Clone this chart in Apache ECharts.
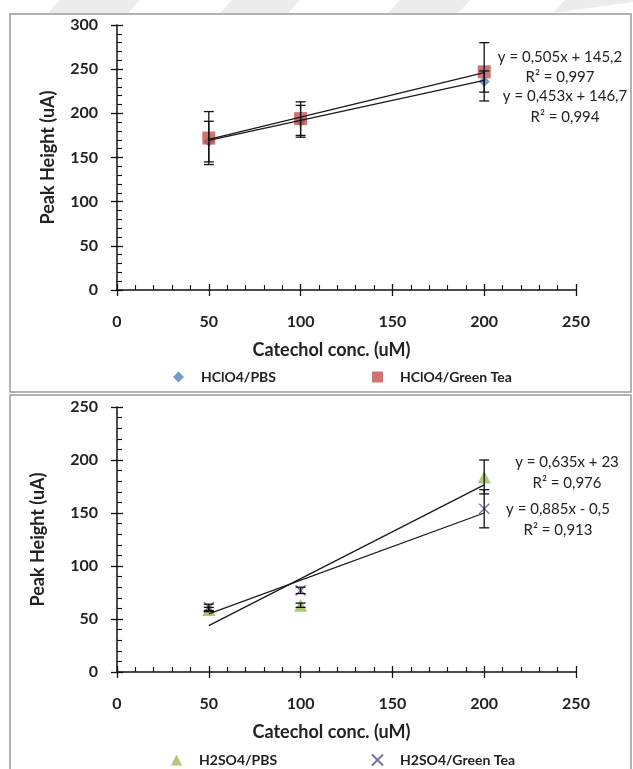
<!DOCTYPE html>
<html>
<head>
<meta charset="utf-8">
<script src="https://cdn.jsdelivr.net/npm/echarts@6/dist/echarts.min.js"></script>
<style>
  html, body { margin: 0; padding: 0; background: #ffffff; }
  #chart { width: 633px; height: 769px; }
</style>
</head>
<body>
<div id="chart"></div>
<script>
// Catechol concentrations (uM)
const concentrations = [50, 100, 200];

// Axis ranges
const xAxisRange = [0, 250, 50];
const topYRange = [0, 300, 50];
const bottomYRange = [0, 250, 50];

// HClO4 electrolyte: peak heights (uA) and error bars
const hclo4PbsPeak = [168, 191, 236];
const hclo4PbsErr = [23, 18, 12];
const hclo4TeaPeak = [172, 194, 247];
const hclo4TeaErr = [30, 19, 33];

// H2SO4 electrolyte: peak heights (uA) and error bars
const h2so4PbsPeak = [59, 63, 184];
const h2so4PbsErr = [2, 2, 16];
const h2so4TeaPeak = [61, 77, 154];
const h2so4TeaErr = [3, 3, 18];

// Linear fits: [HClO4/PBS, HClO4/Green Tea, H2SO4/PBS, H2SO4/Green Tea]
const fitSlopes = [0.453, 0.505, 0.885, 0.635];
const fitIntercepts = [146.7, 145.2, -0.5, 23];
const fitR2 = [0.994, 0.997, 0.913, 0.976];

const seriesNames = ['HClO4/PBS', 'HClO4/Green Tea', 'H2SO4/PBS', 'H2SO4/Green Tea'];

const FONT = 'Lato';
const INK = '#222222';

function commaNum(v) {
  return String(Math.abs(v)).replace('.', ',');
}
function equationText(i) {
  const b = fitIntercepts[i];
  return 'y = ' + commaNum(fitSlopes[i]) + 'x ' + (b < 0 ? '- ' : '+ ') + commaNum(b);
}
function r2Text(i) {
  return 'R\u00b2 = ' + commaNum(fitR2[i]);
}

function xAxes(gridIndex) {
  const base = {
    type: 'value', gridIndex: gridIndex, position: 'bottom',
    min: xAxisRange[0], max: xAxisRange[1], interval: xAxisRange[2],
    splitLine: { show: false }
  };
  return [
    Object.assign({}, base, {
      name: 'Catechol conc. (uM)', nameLocation: 'middle', nameGap: 51,
      nameTextStyle: { fontFamily: FONT, fontWeight: 'bold', fontSize: 18, color: INK, padding: [0, 30, 0, 0] },
      axisLine: { show: true, onZero: false, lineStyle: { color: '#111', width: 1.5 } },
      axisTick: { show: true, inside: true, length: 6, lineStyle: { color: '#111', width: 1.3 } },
      minorTick: { show: true, splitNumber: 5, length: 5, lineStyle: { color: '#111', width: 1.1 } },
      axisLabel: { fontFamily: FONT, fontWeight: 'bold', fontSize: 16, color: INK, margin: 24 }
    }),
    Object.assign({}, base, {
      axisLine: { show: false },
      axisTick: { show: true, inside: false, length: 6, lineStyle: { color: '#111', width: 1.3 } },
      minorTick: { show: false },
      axisLabel: { show: false }
    })
  ];
}

function yAxes(gridIndex, range, nameGap) {
  const base = {
    type: 'value', gridIndex: gridIndex, position: 'left',
    min: range[0], max: range[1], interval: range[2],
    splitLine: { show: false }
  };
  return [
    Object.assign({}, base, {
      name: 'Peak Height (uA)', nameLocation: 'middle', nameGap: nameGap,
      nameTextStyle: { fontFamily: FONT, fontWeight: 'bold', fontSize: 18, color: INK },
      axisLine: { show: true, onZero: false, lineStyle: { color: '#111', width: 1.5 } },
      axisTick: { show: true, inside: true, length: 6, lineStyle: { color: '#111', width: 1.3 } },
      minorTick: { show: true, splitNumber: 5, length: 5, lineStyle: { color: '#111', width: 1.1 } },
      axisLabel: { fontFamily: FONT, fontWeight: 'bold', fontSize: 16, color: INK, margin: 19 }
    }),
    Object.assign({}, base, {
      axisLine: { show: false },
      axisTick: { show: true, inside: false, length: 6, lineStyle: { color: '#111', width: 1.3 } },
      minorTick: { show: false },
      axisLabel: { show: false }
    })
  ];
}

function errorBars(axisIndex, values, errs) {
  return {
    type: 'custom', xAxisIndex: axisIndex, yAxisIndex: axisIndex, silent: true, z: 4,
    data: concentrations.map((x, i) => [x, values[i] - errs[i], values[i] + errs[i]]),
    encode: { x: 0, y: [1, 2] },
    renderItem: function (params, api) {
      const lo = api.coord([api.value(0), api.value(1)]);
      const hi = api.coord([api.value(0), api.value(2)]);
      const w = 5;
      const st = { stroke: '#111', lineWidth: 1.3 };
      return {
        type: 'group',
        children: [
          { type: 'line', shape: { x1: lo[0], y1: lo[1], x2: hi[0], y2: hi[1] }, style: st },
          { type: 'line', shape: { x1: lo[0] - w, y1: lo[1], x2: lo[0] + w, y2: lo[1] }, style: st },
          { type: 'line', shape: { x1: hi[0] - w, y1: hi[1], x2: hi[0] + w, y2: hi[1] }, style: st }
        ]
      };
    }
  };
}

function trendLine(axisIndex, fitIdx) {
  const xs = [concentrations[0], concentrations[concentrations.length - 1]];
  return {
    type: 'line', xAxisIndex: axisIndex, yAxisIndex: axisIndex, silent: true, z: 3,
    symbol: 'none',
    lineStyle: { color: '#1a1a1a', width: 1.3 },
    data: xs.map(x => [x, fitSlopes[fitIdx] * x + fitIntercepts[fitIdx]])
  };
}

function points(axisIndex, name, values, symbol, size, style) {
  return {
    type: 'scatter', name: name, xAxisIndex: axisIndex, yAxisIndex: axisIndex, z: 2,
    symbol: symbol, symbolSize: size, itemStyle: style,
    data: concentrations.map((x, i) => [x, values[i]])
  };
}

const crossPath = 'path://M0,0 L10,10 M10,0 L0,10';

const styles = {
  hclo4Pbs: { color: '#4F81BD' },
  hclo4Tea: { color: '#C0504D' },
  h2so4Pbs: { color: '#9BBB59' },
  h2so4Tea: { color: 'rgba(0,0,0,0)', borderColor: '#5E4A8A', borderWidth: 1.4 }
};

function legendItem(name, left, top) {
  return {
    data: [name], left: left, top: top, orient: 'horizontal',
    itemWidth: 11, itemHeight: 11, selectedMode: false, padding: 0,
    textStyle: { fontFamily: FONT, fontWeight: 'bold', fontSize: 14, color: INK, padding: [0, 0, 0, 12] }
  };
}

// Equation labels next to the fitted lines
function eqLabels(fitIdx, cx, yEq, yR2) {
  const st = { fontFamily: FONT, fontSize: 15, fill: INK, textAlign: 'center', textVerticalAlign: 'middle' };
  return [
    { type: 'text', x: cx, y: yEq, z: 10, style: Object.assign({ text: equationText(fitIdx) }, st) },
    { type: 'text', x: cx, y: yR2, z: 10, style: Object.assign({ text: r2Text(fitIdx) }, st) }
  ];
}

const chart = echarts.init(document.getElementById('chart'), null, { renderer: 'canvas' });

chart.setOption({
  backgroundColor: '#ffffff',
  animation: false,
  grid: [
    { left: 117, top: 25, width: 459, height: 265 },
    { left: 117, top: 407, width: 459, height: 265 }
  ],
  xAxis: [].concat(xAxes(0), xAxes(1)),
  yAxis: [].concat(yAxes(0, topYRange, 60), yAxes(1, bottomYRange, 70)),
  legend: [
    legendItem(seriesNames[0], 173, 370),
    legendItem(seriesNames[1], 372, 370),
    legendItem(seriesNames[2], 171, 753),
    legendItem(seriesNames[3], 371, 753)
  ],
  graphic: [
    // faint diagonal bands along the top strip
    { type: 'polygon', z: -10, silent: true, shape: { points: [[60, 0], [140, 0], [128, 13], [48, 13]] }, style: { fill: '#ececec' } },
    { type: 'polygon', z: -10, silent: true, shape: { points: [[232, 0], [300, 0], [288, 13], [220, 13]] }, style: { fill: '#ececec' } },
    { type: 'polygon', z: -10, silent: true, shape: { points: [[400, 0], [470, 0], [458, 13], [388, 13]] }, style: { fill: '#ececec' } },
    { type: 'polygon', z: -10, silent: true, shape: { points: [[565, 0], [633, 0], [633, 2], [553, 13]] }, style: { fill: '#ececec' } },
    // panel frames
    { type: 'rect', z: -5, silent: true, shape: { x: 10, y: 14, width: 621, height: 378 }, style: { fill: '#ffffff', stroke: '#9a9a9a', lineWidth: 1.5 } },
    { type: 'rect', z: -5, silent: true, shape: { x: 10, y: 395, width: 621, height: 380 }, style: { fill: '#ffffff', stroke: '#9a9a9a', lineWidth: 1.5 } }
  ]
    .concat(eqLabels(1, 560, 57, 77))
    .concat(eqLabels(0, 565, 96, 117))
    .concat(eqLabels(3, 567, 462, 483))
    .concat(eqLabels(2, 558, 509, 530)),
  series: [
    points(0, seriesNames[0], hclo4PbsPeak, 'diamond', 11, styles.hclo4Pbs),
    points(0, seriesNames[1], hclo4TeaPeak, 'rect', 13, styles.hclo4Tea),
    trendLine(0, 0),
    trendLine(0, 1),
    errorBars(0, hclo4PbsPeak, hclo4PbsErr),
    errorBars(0, hclo4TeaPeak, hclo4TeaErr),

    points(2, seriesNames[2], h2so4PbsPeak, 'triangle', 13, styles.h2so4Pbs),
    points(2, seriesNames[3], h2so4TeaPeak, crossPath, 10, styles.h2so4Tea),
    trendLine(2, 2),
    trendLine(2, 3),
    errorBars(2, h2so4PbsPeak, h2so4PbsErr),
    errorBars(2, h2so4TeaPeak, h2so4TeaErr)
  ]
});
</script>
</body>
</html>
